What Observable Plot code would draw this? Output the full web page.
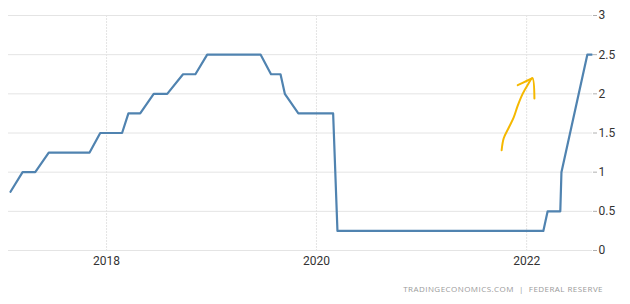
<!DOCTYPE html>
<html>
<head>
<meta charset="utf-8">
<script src="https://cdn.jsdelivr.net/npm/d3@7"></script>
<script src="https://cdn.jsdelivr.net/npm/@observablehq/plot@0.6"></script>
<style>
  html, body { margin: 0; padding: 0; background: #fff; }
  #wrap { position: relative; width: 630px; height: 304px; overflow: hidden; }
  #caption { position: absolute; right: 27px; top: 283px; font-family: "Open Sans", sans-serif; font-size: 8px; letter-spacing: 0.45px; color: #9a9a9a; white-space: pre; }
</style>
</head>
<body>
<div id="wrap">
  <div id="chart"></div>
  <div id="caption">TRADINGECONOMICS.COM  |  FEDERAL RESERVE</div>
</div>
<script>
// Fed funds rate (upper bound), %, as drawn
const rateDates = ["2017-02-01","2017-03-15","2017-04-28","2017-06-14","2017-11-03","2017-12-10",
  "2018-02-24","2018-03-18","2018-04-28","2018-06-14","2018-07-31","2018-09-24","2018-11-06","2018-12-17",
  "2019-06-21","2019-07-27","2019-08-29","2019-09-13","2019-10-30",
  "2020-02-28","2020-03-14",
  "2022-02-28","2022-03-15","2022-04-28","2022-05-02","2022-07-31","2022-08-15"];
const rateValues = [0.75,1.0,1.0,1.25,1.25,1.5,
  1.5,1.75,1.75,2.0,2.0,2.25,2.25,2.5,
  2.5,2.25,2.25,2.0,1.75,
  1.75,0.25,
  0.25,0.5,0.5,1.0,2.5,2.5];

// Hand-drawn yellow arrow annotation (data coordinates)
const arrowDates = ["2021-10-06","2021-10-13","2021-10-31","2021-11-17","2021-12-01","2021-12-18","2022-01-04","2022-01-21","2022-01-28",
  "2021-12-01","2021-12-18","2022-01-21"];
const arrowValues = [1.28,1.43,1.57,1.70,1.85,2.00,2.11,2.20,1.94,
  2.11,2.14,2.20];
const arrowStroke = [0,0,0,0,0,0,0,0,0,1,1,1];

const xTickYears = ["2018-01-01","2020-01-01","2022-01-01"];
const yTicks = [0,0.5,1,1.5,2,2.5,3];
const xDomain = ["2017-01-25","2022-08-18"];

const parse = d3.utcParse("%Y-%m-%d");
const rate = rateDates.map((d, i) => ({date: parse(d), value: rateValues[i]}));
const arrow = arrowDates.map((d, i) => ({date: parse(d), value: arrowValues[i], s: arrowStroke[i]}));
const xTicks = xTickYears.map(parse);

const chart = Plot.plot({
  width: 630,
  height: 275,
  marginLeft: 8,
  marginRight: 38,
  marginTop: 15,
  marginBottom: 25,
  style: {fontFamily: "'Liberation Sans Narrow', Roboto, sans-serif", fontSize: "12px", color: "#333", background: "#fff"},
  x: {type: "utc", domain: xDomain.map(parse)},
  y: {domain: [0, 3]},
  marks: [
    Plot.gridX(xTicks, {stroke: "#e4e4e4", strokeOpacity: 1, strokeDasharray: "2,1"}),
    Plot.gridY(yTicks, {stroke: "#e4e4e4", strokeOpacity: 1}),
    Plot.axisX({ticks: xTicks, tickFormat: d3.utcFormat("%Y"), tickSize: 0, tickPadding: 6, label: null, fill: "#333"}),
    Plot.axisY({anchor: "right", ticks: yTicks, tickFormat: d3.format("~g"), tickSize: 4, tickPadding: 2, label: null, stroke: "#b0b0b0", fill: "#333"}),
    Plot.line(rate, {x: "date", y: "value", stroke: "#5083b0", strokeWidth: 2.2, strokeLinejoin: "round"}),
    Plot.line(arrow, {x: "date", y: "value", z: "s", stroke: "#f5b800", strokeWidth: 2, strokeLinejoin: "round", strokeLinecap: "round", curve: "catmull-rom"})
  ]
});
document.getElementById("chart").appendChild(chart);
</script>
</body>
</html>
